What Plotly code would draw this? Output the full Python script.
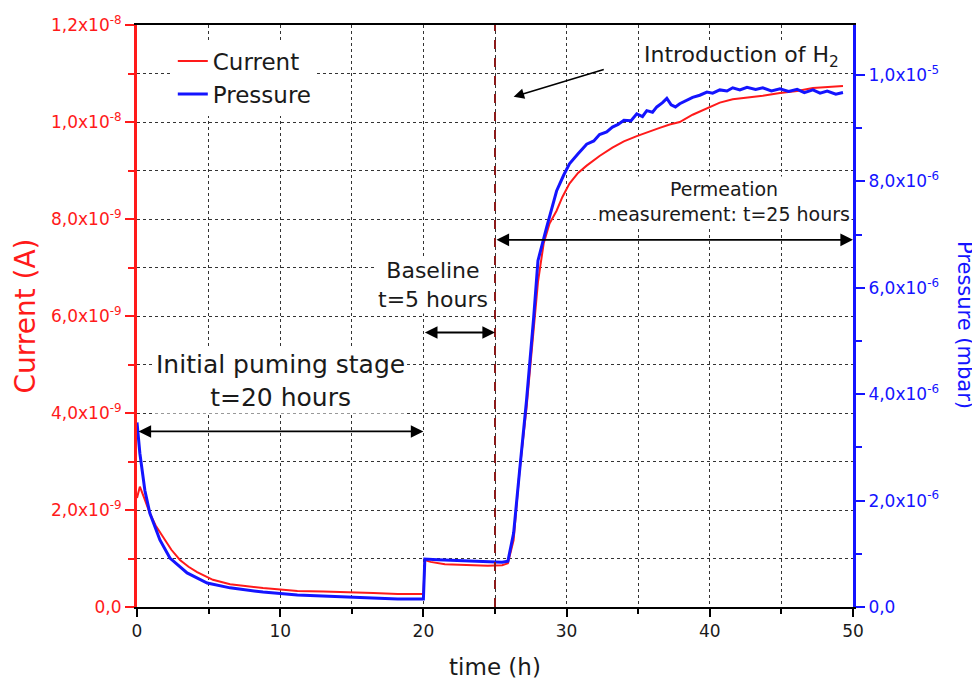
"""Hydrogen permeation test: ion current and pressure versus time."""
import plotly.graph_objects as go

# ---- data ----
t_current = [0, 0.2, 0.5, 0.9, 1.3, 1.8, 2.4, 3.0, 3.6, 4.2, 5.3, 6.5, 7.5, 8.8, 10, 11.2, 13, 14.7,
             16.5, 18.2, 20.0, 20.1, 20.5, 21.5, 22.5, 23.5, 24.5, 25.5, 25.9, 26.3, 26.7, 27.2, 27.7,
             28.0, 28.4, 28.8, 29.3, 29.7, 30.2, 30.8, 31.4, 32.3, 33.2, 34.0, 34.9, 35.7, 36.5, 37.2,
             37.9, 38.8, 39.8, 40.7, 41.6, 42.6, 43.7, 44.9, 46.1, 47.2, 48.2, 49.3]
current = [2.25e-9, 2.48e-9, 2.25e-9, 1.93e-9, 1.68e-9, 1.44e-9, 1.18e-9, 0.97e-9, 0.83e-9, 0.72e-9,
           0.56e-9, 0.47e-9, 0.43e-9, 0.39e-9, 0.36e-9, 0.33e-9, 0.32e-9, 0.31e-9, 0.29e-9, 0.27e-9,
           0.27e-9, 0.97e-9, 0.93e-9, 0.88e-9, 0.87e-9, 0.86e-9, 0.85e-9, 0.86e-9, 0.90e-9, 1.38e-9,
           2.76e-9, 4.10e-9, 5.80e-9, 6.70e-9, 7.50e-9, 7.90e-9, 8.17e-9, 8.45e-9, 8.73e-9, 8.95e-9,
           9.10e-9, 9.30e-9, 9.47e-9, 9.60e-9, 9.71e-9, 9.80e-9, 9.88e-9, 9.95e-9, 10.0e-9, 10.15e-9,
           10.29e-9, 10.40e-9, 10.47e-9, 10.50e-9, 10.54e-9, 10.60e-9, 10.64e-9, 10.70e-9, 10.72e-9,
           10.74e-9]

t_pressure = [0, 0.2, 0.55, 0.9, 1.6, 2.3, 3.5, 4.9, 6.5, 8.8, 11.2, 14.7, 18.2, 20.0, 20.1, 21, 22.5,
              24, 25.5, 25.9, 26.3, 26.7, 27.2, 27.7, 28.0, 28.6, 29.3, 29.8, 30.2, 30.8, 31.4, 31.9,
              32.3, 32.8, 33.2, 33.6, 34.0, 34.5, 34.9, 35.3, 35.6, 36.0, 36.3, 36.7, 37.0, 37.3, 37.6,
              37.9, 38.4, 38.8, 39.3, 39.8, 40.2, 40.7, 41.2, 41.6, 42.1, 42.6, 43.2, 43.7, 44.3, 44.9,
              45.5, 46.1, 46.6, 47.2, 47.7, 48.2, 48.8, 49.3]
pressure = [3.47e-6, 2.89e-6, 2.19e-6, 1.76e-6, 1.26e-6, 0.92e-6, 0.64e-6, 0.45e-6, 0.36e-6, 0.28e-6,
            0.225e-6, 0.19e-6, 0.15e-6, 0.15e-6, 0.90e-6, 0.89e-6, 0.87e-6, 0.86e-6, 0.84e-6, 0.86e-6,
            1.39e-6, 2.51e-6, 3.88e-6, 5.44e-6, 6.51e-6, 7.13e-6, 7.82e-6, 8.12e-6, 8.33e-6, 8.52e-6,
            8.70e-6, 8.76e-6, 8.88e-6, 8.93e-6, 9.02e-6, 9.07e-6, 9.15e-6, 9.14e-6, 9.27e-6, 9.22e-6,
            9.33e-6, 9.30e-6, 9.40e-6, 9.48e-6, 9.56e-6, 9.44e-6, 9.40e-6, 9.46e-6, 9.52e-6, 9.58e-6,
            9.62e-6, 9.68e-6, 9.66e-6, 9.72e-6, 9.70e-6, 9.76e-6, 9.72e-6, 9.77e-6, 9.73e-6, 9.76e-6,
            9.70e-6, 9.74e-6, 9.69e-6, 9.73e-6, 9.67e-6, 9.72e-6, 9.66e-6, 9.70e-6, 9.64e-6, 9.67e-6]

x_ticks = [0, 10, 20, 30, 40, 50]
x_minor = [5, 15, 25, 35, 45]
y1_ticks = [0, 2e-9, 4e-9, 6e-9, 8e-9, 1.0e-8, 1.2e-8]
y1_labels = ["0,0", "2,0x10<sup>-9</sup>", "4,0x10<sup>-9</sup>", "6,0x10<sup>-9</sup>",
             "8,0x10<sup>-9</sup>", "1,0x10<sup>-8</sup>", "1,2x10<sup>-8</sup>"]
y1_minor = [1e-9, 3e-9, 5e-9, 7e-9, 9e-9, 1.1e-8]
y2_ticks = [0, 2e-6, 4e-6, 6e-6, 8e-6, 1.0e-5]
y2_labels = ["0,0", "2,0x10<sup>-6</sup>", "4,0x10<sup>-6</sup>", "6,0x10<sup>-6</sup>",
             "8,0x10<sup>-6</sup>", "1,0x10<sup>-5</sup>"]
y2_minor = [1e-6, 3e-6, 5e-6, 7e-6, 9e-6]

FONT = "DejaVu Sans"
RED = "#ff1a1a"
BLUE = "#1414ff"
TEXT = "#1a1a1a"

fig = go.Figure()
fig.add_trace(go.Scatter(x=t_current, y=current, name="Current", mode="lines",
                         line=dict(color=RED, width=2), yaxis="y"))
fig.add_trace(go.Scatter(x=t_pressure, y=pressure, name="Pressure", mode="lines",
                         line=dict(color=BLUE, width=3), yaxis="y2"))

# dashed line where H2 goes in
fig.add_shape(type="line", xref="x", yref="paper", x0=25, x1=25, y0=0, y1=1,
              line=dict(color="#8b1a1a", width=2, dash="dash"))


def label(x, y, text, size):
    return dict(x=x, y=y, xref="x", yref="y", text=text, showarrow=False,
                font=dict(size=size, color=TEXT, family=FONT), bgcolor="white")


def span(x0, x1, y):
    return dict(x=x1, y=y, ax=x0, ay=y, xref="x", yref="y", axref="x", ayref="y", text="",
                showarrow=True, arrowhead=2, arrowside="end+start", arrowsize=1.4,
                arrowwidth=1.8, arrowcolor="black")


annotations = [
    label(10, 4.65e-9, "Initial puming stage<br>t=20 hours", 25),
    label(20.7, 6.63e-9, "Baseline<br>t=5 hours", 22),
    label(41.0, 8.36e-9, "Permeation<br>measurement: t=25 hours", 19),
    label(42.2, 1.136e-8, "Introduction of H<sub>2</sub>", 22),
    span(0, 20, 3.62e-9),
    span(20, 25, 5.66e-9),
    span(25, 50, 7.57e-9),
    dict(x=26.3, y=1.052e-8, ax=32.7, ay=1.109e-8, xref="x", yref="y", axref="x", ayref="y",
         text="", showarrow=True, arrowhead=2, arrowsize=1.4, arrowwidth=1.5, arrowcolor="black"),
    dict(x=1.0, y=0.5, xref="paper", yref="paper", xanchor="center", yanchor="middle",
         xshift=112, yshift=-9, text="Pressure (mbar)", textangle=90, showarrow=False,
         font=dict(size=21, color=BLUE, family=FONT)),
]

grid = dict(showgrid=True, gridcolor="#333333", griddash="dot", gridwidth=1)

# the page puts the plot 8px in from the top left corner, so the figure is 8px smaller
fig.update_layout(
    width=972, height=683,
    margin=dict(l=129, r=127, t=17, b=84, autoexpand=False),
    paper_bgcolor="white", plot_bgcolor="white",
    font=dict(family=FONT, size=17, color=TEXT),
    showlegend=True,
    legend=dict(x=0.05, y=0.975, xanchor="left", yanchor="top", bgcolor="white",
                font=dict(size=23, color=TEXT), tracegroupgap=0),
    xaxis=dict(range=[0, 50], tickmode="array", tickvals=x_ticks, automargin=False,
               title=dict(text="time (h)", font=dict(size=23), standoff=18),
               showline=True, linecolor="black", linewidth=2, mirror=True,
               ticks="outside", ticklen=8, tickwidth=2, tickcolor="black",
               minor=dict(tickmode="array", tickvals=x_minor, ticks="outside", ticklen=5,
                          tickwidth=2, tickcolor="black", **grid),
               zeroline=False, **grid),
    yaxis=dict(range=[0, 1.2e-8], tickmode="array", tickvals=y1_ticks, ticktext=y1_labels,
               automargin=False,
               title=dict(text="Current (A)", font=dict(size=28, color=RED), standoff=8),
               tickfont=dict(size=17, color=RED),
               showline=True, linecolor=RED, linewidth=3,
               ticks="outside", ticklen=9, tickwidth=2, tickcolor=RED,
               minor=dict(tickmode="array", tickvals=y1_minor, ticks="outside", ticklen=6,
                          tickwidth=2, tickcolor=RED, **grid),
               zeroline=False, **grid),
    yaxis2=dict(range=[0, 1.094e-5], overlaying="y", side="right", tickmode="array",
                tickvals=y2_ticks, ticktext=y2_labels, automargin=False,
                tickfont=dict(size=17, color=BLUE),
                showline=True, linecolor=BLUE, linewidth=3,
                ticks="outside", ticklen=9, tickwidth=2, tickcolor=BLUE,
                minor=dict(tickmode="array", tickvals=y2_minor, ticks="outside", ticklen=6,
                           tickwidth=2, tickcolor=BLUE),
                showgrid=False, zeroline=False),
    annotations=annotations,
)

fig.write_html("out.html")
